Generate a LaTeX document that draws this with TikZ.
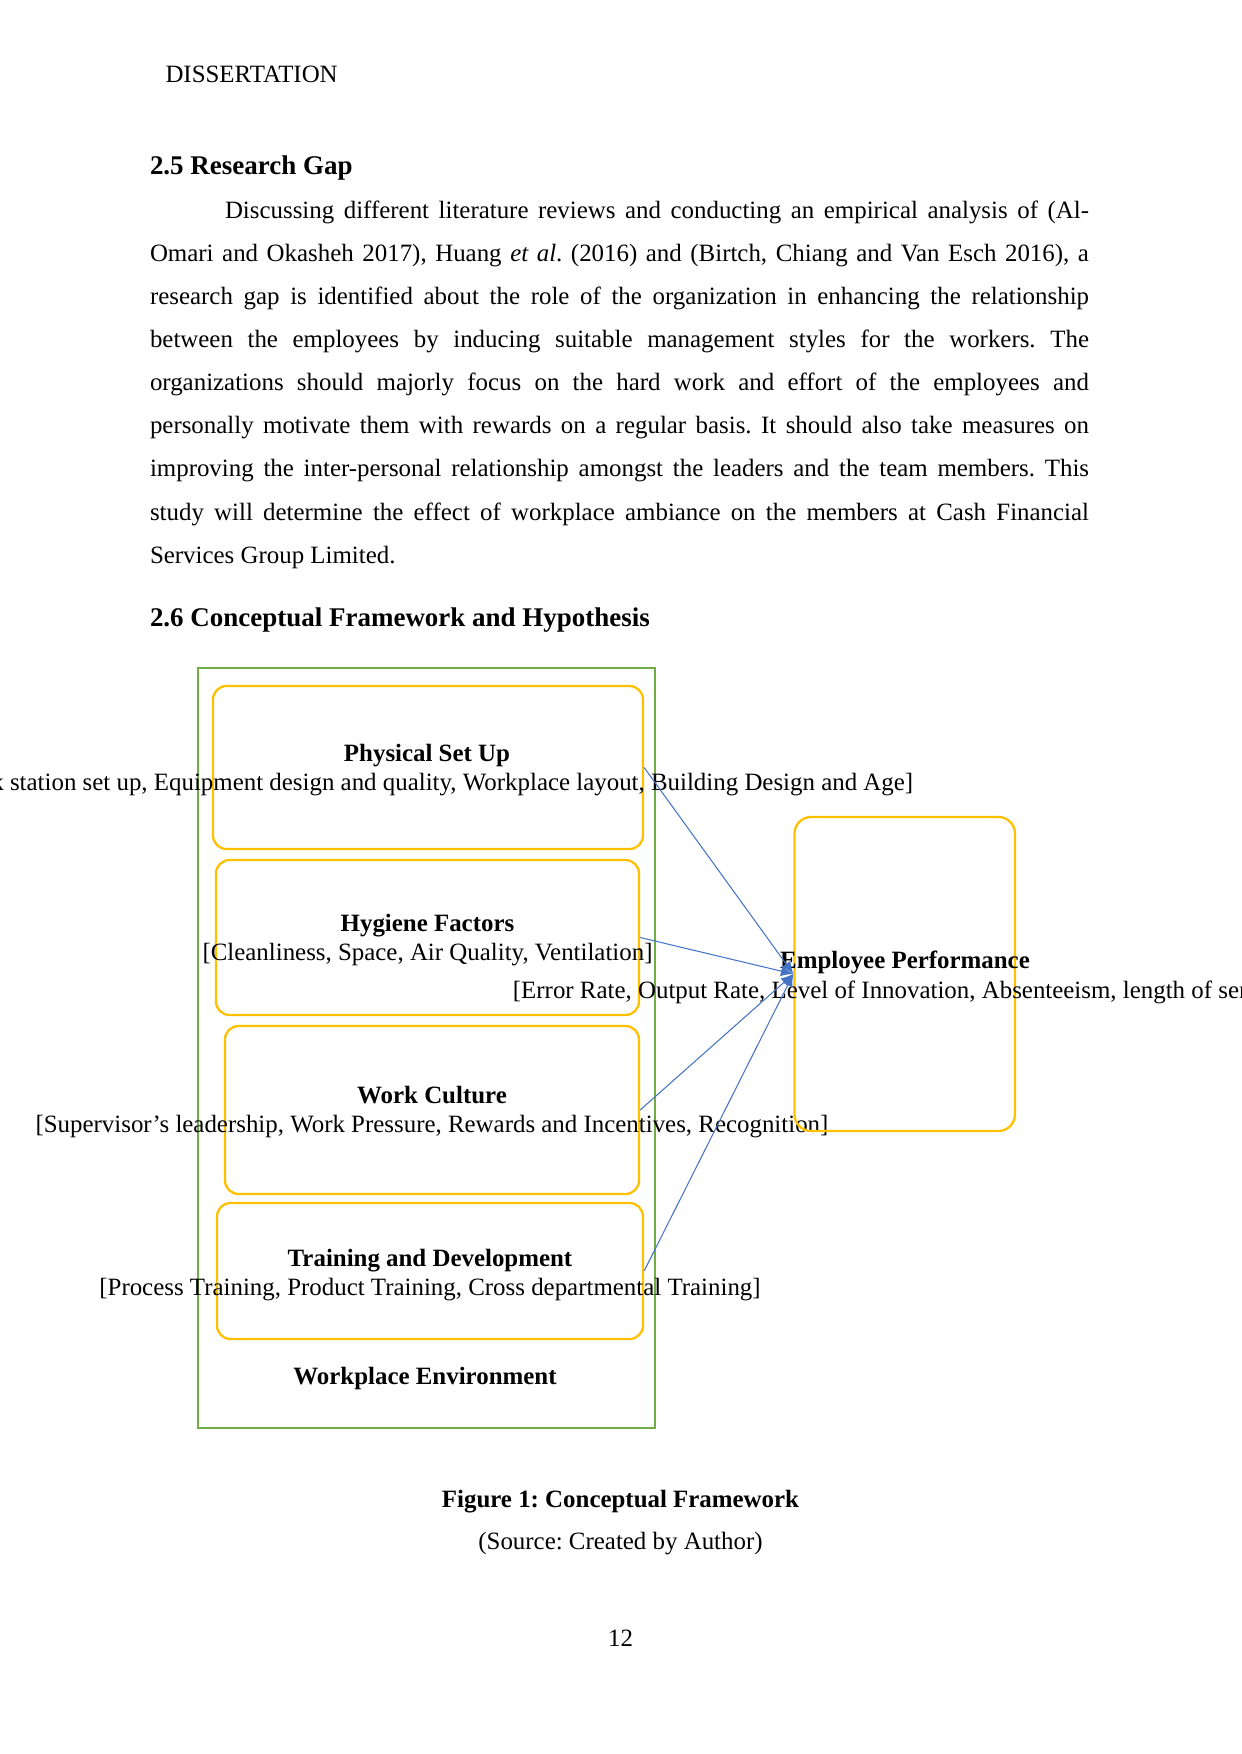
\documentclass[tikz,border=0pt]{standalone}
\usepackage{fontspec}
\setmainfont{Liberation Serif}
\usepackage{xcolor}
\usetikzlibrary{arrows.meta, positioning}
\frenchspacing

% one pixel of the 150 dpi page
\newlength\pxl
\setlength\pxl{0.0066667in}

\definecolor{boxyellow}{HTML}{FFC000}
\definecolor{envgreen}{HTML}{70AD47}
\definecolor{linkblue}{HTML}{4472C4}

\tikzset{
  txt/.style={inner sep=0pt, outer sep=0pt, font=\fontsize{12}{14}\selectfont},
  head/.style={txt, anchor=base west, font=\fontsize{13}{15}\selectfont\bfseries},
  line/.style={txt, anchor=base west},
  boxtxt/.style={txt, align=center, font=\fontsize{12}{14.4}\selectfont},
  factor/.style={draw=boxyellow, line width=1.1pt, rounded corners=6.5pt, inner sep=0pt},
  envbox/.style={draw=envgreen, line width=0.8pt, inner sep=0pt},
  link/.style={draw=linkblue, line width=0.5pt, -{Latex[length=6pt,width=5pt]}},
}

\begin{document}
\begin{tikzpicture}[x=\pxl, y=-\pxl]

    \useasboundingbox (0,0) rectangle (1241,1754);

    % =================================================================
    % 1. PAGE HEAD AND SECTION 2.5
    % =================================================================
    \node[line] (runhead) at (165.5,83) {DISSERTATION};
    \node[head] (gaphead) at (150,175) {2.5 Research Gap};

    \node[line] (p1) at (225,218.5) {\makebox[864\pxl][s]{Discussing different literature reviews and conducting an empirical analysis of (Al-}};
    \node[line] (p2) at (150,261.6) {\makebox[939\pxl][s]{Omari and Okasheh 2017), Huang \emph{et al}. (2016) and (Birtch, Chiang and Van Esch 2016), a}};
    \node[line] (p3) at (150,304.6) {\makebox[939\pxl][s]{research gap is identified about the role of the organization in enhancing the relationship}};
    \node[line] (p4) at (150,347.7) {\makebox[939\pxl][s]{between the employees by inducing suitable management styles for the workers. The}};
    \node[line] (p5) at (150,390.8) {\makebox[939\pxl][s]{organizations should majorly focus on the hard work and effort of the employees and}};
    \node[line] (p6) at (150,433.9) {\makebox[939\pxl][s]{personally motivate them with rewards on a regular basis. It should also take measures on}};
    \node[line] (p7) at (150,476.9) {\makebox[939\pxl][s]{improving the inter-personal relationship amongst the leaders and the team members. This}};
    \node[line] (p8) at (150,520) {\makebox[939\pxl][s]{study will determine the effect of workplace ambiance on the members at Cash Financial}};
    \node[line] (p9) at (150,563.1) {Services Group Limited.};

    \node[head] (fwhead) at (150,626) {2.6 Conceptual Framework and Hypothesis};

    % =================================================================
    % 2. WORKPLACE ENVIRONMENT AND ITS FOUR FACTORS
    % =================================================================
    \node[envbox, minimum width=457\pxl, minimum height=760\pxl] (env) at (426.5,1048) {};

    \node[factor, minimum width=430\pxl, minimum height=163\pxl] (phys) at (428,767.5) {};
    \node[factor, minimum width=423\pxl, minimum height=155\pxl] (hyg) at (427.5,937.5) {};
    \node[factor, minimum width=414\pxl, minimum height=168\pxl] (cult) at (432,1110) {};
    \node[factor, minimum width=426\pxl, minimum height=136\pxl] (train) at (430,1271) {};

    \node[boxtxt] (physTxt) at (427,770) {\textbf{Physical Set Up}\\{[}Work station set up, Equipment design and quality, Workplace layout, Building Design and Age]};
    \node[boxtxt] (hygTxt) at (427.5,940) {\textbf{Hygiene Factors}\\{[}Cleanliness, Space, Air Quality, Ventilation]};
    \node[boxtxt] (cultTxt) at (432,1112) {\textbf{Work Culture}\\{[}Supervisor’s leadership, Work Pressure, Rewards and Incentives, Recognition]};
    \node[boxtxt] (trainTxt) at (430,1275) {\textbf{Training and Development}\\{[}Process Training, Product Training, Cross departmental Training]};

    \node[txt, anchor=base, font=\fontsize{12}{14}\selectfont\bfseries] (envTxt) at (425,1384.5) {Workplace Environment};

    % =================================================================
    % 3. EMPLOYEE PERFORMANCE AND THE LINKS
    % =================================================================
    \node[factor, rounded corners=8pt, minimum width=220.5\pxl, minimum height=314\pxl] (perf) at (904.75,974) {};
    \node[boxtxt] (perfTxt) at (905,977) {\textbf{Employee Performance}\\{[}Error Rate, Output Rate, Level of Innovation, Absenteeism, length of service]};

    \draw[link] (phys.east) -- (perf.west);
    \draw[link] (hyg.east) -- (perf.west);
    \draw[link] (cult.east) -- (perf.west);
    \draw[link] (train.east) -- (perf.west);

    % =================================================================
    % 4. CAPTION AND PAGE NUMBER
    % =================================================================
    \node[txt, anchor=base, font=\fontsize{12}{14}\selectfont\bfseries] (cap) at (620.5,1507) {Figure 1: Conceptual Framework};
    \node[txt, anchor=base] (src) at (620.5,1549) {(Source: Created by Author)};
    \node[txt, anchor=base] (pgno) at (620.5,1646) {12};

\end{tikzpicture}
\end{document}
